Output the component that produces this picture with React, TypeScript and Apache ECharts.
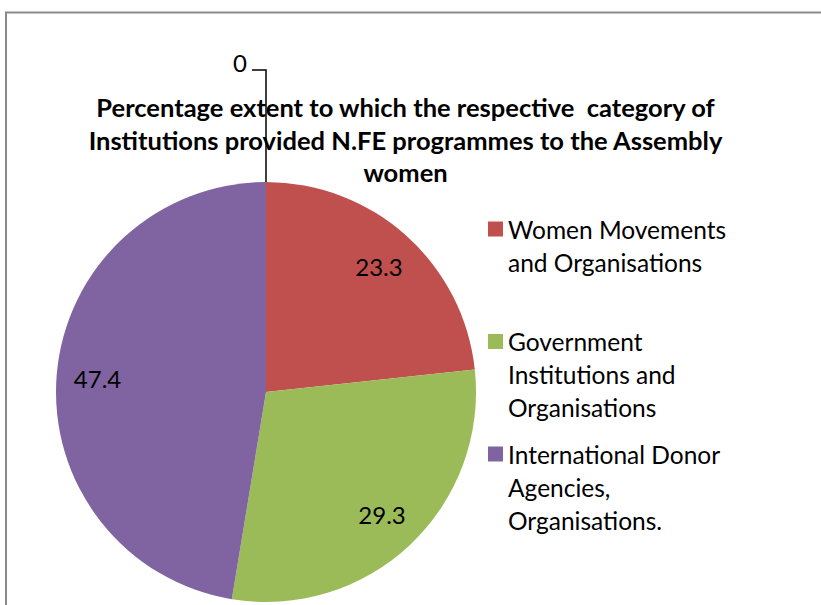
import React, { useEffect, useRef } from "react";
import * as echarts from "echarts";

const categories = [
  "Other",
  "Women Movements and Organisations",
  "Government Institutions and Organisations",
  "International Donor Agencies, Organisations.",
];
const values = [0, 23.3, 29.3, 47.4];
const colors = ["#4F81BD", "#C0504D", "#9BBB59", "#8064A2"];
const legendLabels = [
  "Women Movements\nand Organisations",
  "Government\nInstitutions and\nOrganisations",
  "International Donor\nAgencies,\nOrganisations.",
];
const legendTops = [212.5, 325, 437.5];
const titleText =
  "Percentage extent to which the respective  category of\nInstitutions provided N.FE programmes to the Assembly\nwomen";

const FONT = "Lato, 'Open Sans', sans-serif";
const CX = 266;
const CY = 392;
const R = 210;
const LH = 33;

export default function App() {
  const ref = useRef<HTMLDivElement>(null);
  useEffect(() => {
    if (!ref.current) return;
    const chart = echarts.init(ref.current, null, { renderer: "svg" });
    const legends = legendLabels.map((lab, i) => {
      const n = lab.split("\n").length;
      const h = n * LH;
      const sq0 = LH / 2 - 7.5;
      return {
        show: true,
        orient: "vertical",
        left: 488,
        top: legendTops[i],
        padding: 0,
        icon: `path://M0,0M0,${h}M0,${sq0}H15V${sq0 + 15}H0Z`,
        itemWidth: 15,
        itemHeight: h,
        selectedMode: false,
        data: [categories[i + 1]],
        formatter: () => lab,
        textStyle: {
          fontFamily: FONT,
          fontSize: 24.5,
          color: "#000",
          lineHeight: LH,
        },
      };
    });
    chart.setOption({
      animation: false,
      backgroundColor: "#fff",
      title: {
        text: titleText,
        left: 405.5,
        textAlign: "center",
        top: 90.75,
        padding: 0,
        textStyle: {
          fontFamily: FONT,
          fontSize: 25.5,
          fontWeight: "bold",
          color: "#000",
          lineHeight: 32.5,
        },
      },
      legend: legends,
      graphic: [
        {
          type: "rect",
          shape: { x: 6, y: 12.5, width: 840, height: 640 },
          style: { fill: "none", stroke: "#8a8a8a", lineWidth: 2 },
          silent: true,
        },
      ],
      series: [
        {
          type: "pie",
          center: [CX, CY],
          radius: R,
          startAngle: 90,
          clockwise: true,
          avoidLabelOverlap: false,
          minShowLabelAngle: 0,
          data: categories.map((c, i) => ({
            name: c,
            value: values[i],
            itemStyle: { color: colors[i] },
            ...(i === 0
              ? {
                  label: { position: "outside" },
                  labelLine: { show: true },
                }
              : {}),
          })),
          label: {
            show: true,
            position: "inside",
            formatter: "{c}",
            fontFamily: FONT,
            fontSize: 24,
            color: "#000",
          },
          labelLine: {
            show: false,
            length: 20,
            length2: 10,
            lineStyle: { color: "#000", width: 1.5 },
          },
          emphasis: { disabled: true },
          labelLayout: (p: any) => {
            if (p.dataIndex === 0) {
              const pts = p.labelLinePoints;
              const x0 = pts && pts[0] ? pts[0][0] : CX;
              const y0 = pts && pts[0] ? pts[0][1] : CY - R;
              const y1 = y0 - 112;
              const x2 = x0 - 14;
              return {
                x: x2 - 5,
                y: y1 - 8,
                align: "right",
                verticalAlign: "middle",
                labelLinePoints: [
                  [x0, y0],
                  [x0, y1],
                  [x2, y1],
                ],
              };
            }
            const lr = p.labelRect;
            const lx = lr.x + lr.width / 2;
            const ly = lr.y + lr.height / 2;
            const k = 169 / Math.hypot(lx - CX, ly - CY);
            return {
              x: CX + (lx - CX) * k,
              y: CY + (ly - CY) * k,
              align: "center",
              verticalAlign: "middle",
            };
          },
        },
      ],
    });
    return () => chart.dispose();
  }, []);
  return (
    <div
      ref={ref}
      style={{ position: "absolute", left: 0, top: 0, width: 821, height: 605 }}
    />
  );
}
